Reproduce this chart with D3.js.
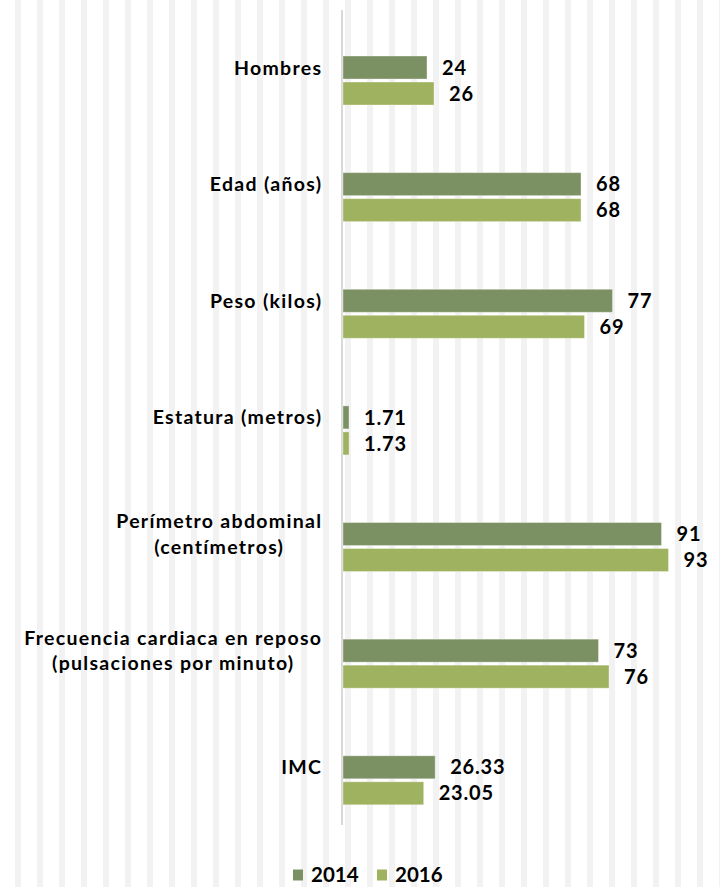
<!DOCTYPE html>
<html><head><meta charset="utf-8">
<script src="https://cdn.jsdelivr.net/npm/d3@7/dist/d3.min.js"></script>
<style>html,body{margin:0;padding:0;background:#fff;}svg{display:block;}</style>
</head><body>
<svg id="chart" width="720" height="887"></svg>
<script>
const categories = [
  ["Hombres"],
  ["Edad (años)"],
  ["Peso (kilos)"],
  ["Estatura (metros)"],
  ["Perímetro abdominal", "(centímetros)"],
  ["Frecuencia cardiaca en reposo", "(pulsaciones por minuto)"],
  ["IMC"]
];
const seriesNames = ["2014", "2016"];
const values2014 = [24, 68, 77, 1.71, 91, 73, 26.33];
const values2016 = [26, 68, 69, 1.73, 93, 76, 23.05];
const colors = ["#7b9163", "#9fb25f"];

const W = 720, H = 887;
const svg = d3.select("#chart");
const font = "Lato, 'DejaVu Sans', sans-serif";

// background stripes
const bg = svg.append("g");
bg.selectAll("rect").data(d3.range(15, 720, 22)).join("rect")
  .attr("x", d => d).attr("y", 0).attr("width", 6).attr("height", H)
  .attr("fill", "#f2f2f2");

const catKeys = categories.map(c => c.join(" "));
const y = d3.scaleBand().domain(catKeys).range([22.2, 838.6]).paddingInner(0).paddingOuter(0);
const x = d3.scaleLinear().domain([0, 100]).range([343, 693]);
const ySub = d3.scaleBand().domain(seriesNames)
  .range([y.bandwidth() / 2 - 24.5, y.bandwidth() / 2 + 24.5])
  .paddingInner(3 / 26).paddingOuter(0);

const data = catKeys.map((k, i) => ({key: k, lines: categories[i], vals: [values2014[i], values2016[i]]}));

// axis line
svg.append("line").attr("x1", 342).attr("x2", 342).attr("y1", 10).attr("y2", 825)
  .attr("stroke", "#d9d9d9").attr("stroke-width", 2);

const groups = svg.append("g").selectAll("g").data(data).join("g")
  .attr("transform", d => `translate(0,${y(d.key)})`);

groups.selectAll("rect").data(d => d.vals.map((v, j) => ({v, s: seriesNames[j], j}))).join("rect")
  .attr("x", x(0))
  .attr("y", d => ySub(d.s))
  .attr("width", d => x(d.v) - x(0))
  .attr("height", ySub.bandwidth())
  .attr("fill", d => colors[d.j])
  .attr("stroke", "#ffffff").attr("stroke-opacity", 0.35).attr("stroke-width", 1);

groups.selectAll("text.val").data(d => d.vals.map((v, j) => ({v, s: seriesNames[j], j}))).join("text")
  .attr("class", "val")
  .attr("x", d => x(d.v) + 15)
  .attr("y", d => ySub(d.s) + ySub.bandwidth() / 2)
  .attr("dy", "0.36em")
  .attr("font-family", font).attr("font-weight", "bold").attr("font-size", 20)
  .attr("letter-spacing", 0.8)
  .attr("fill", "#000")
  .text(d => String(d.v));

// category labels: lines centered on each other, block right-aligned
const lh = 25.5;
const labelRight = 322.3;
groups.append("text")
  .attr("text-anchor", "middle")
  .attr("font-family", font).attr("font-weight", "bold").attr("font-size", 19.5)
  .attr("letter-spacing", 1.3)
  .attr("fill", "#000")
  .each(function(d) {
    const t = d3.select(this);
    const c = y.bandwidth() / 2;
    const first = c - 6 - (d.lines.length - 1) * lh / 2;
    const spans = d.lines.map((ln, i) =>
      t.append("tspan").attr("y", first + i * lh).text(ln));
    const maxW = d3.max(spans, s => s.node().getComputedTextLength());
    spans.forEach(s => s.attr("x", labelRight - maxW / 2));
  });

// legend
const legend = svg.append("g");
const legPos = [293, 377];
seriesNames.forEach((s, i) => {
  legend.append("rect").attr("x", legPos[i]).attr("y", 869.5).attr("width", 10).attr("height", 11)
    .attr("fill", colors[i]);
  legend.append("text").attr("x", legPos[i] + 18).attr("y", 881.5)
    .attr("font-family", font).attr("font-weight", "bold").attr("font-size", 20.5)
    .attr("fill", "#000").text(s);
});
</script>
</body></html>
